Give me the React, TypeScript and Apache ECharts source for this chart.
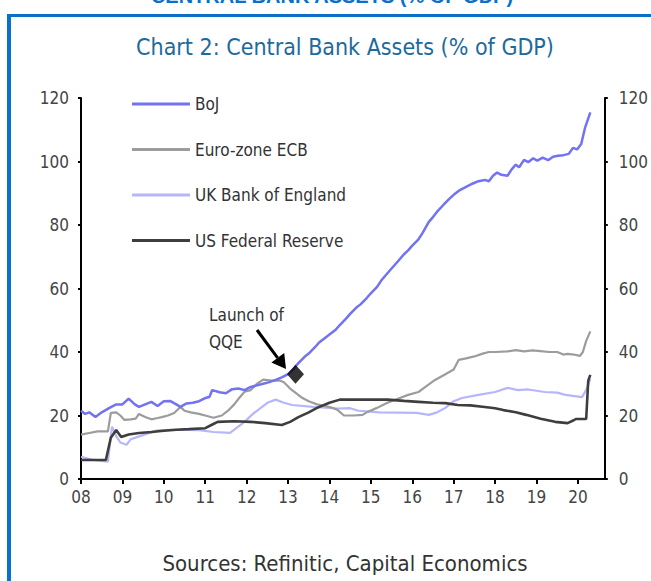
import React, { useEffect, useRef } from "react";
import * as echarts from "echarts";

const NARROW = "'Liberation Sans Narrow', 'DejaVu Sans Condensed', 'Noto Sans', sans-serif";

const seriesNames = ["BoJ", "Euro-zone ECB", "UK Bank of England", "US Federal Reserve"];
const seriesColors = ["#7272f2", "#9c9c9c", "#b6b6fa", "#3e3e3e"];

const boj: number[][] = [
  [2008.0, 21.5], [2008.1, 20.5], [2008.2, 21], [2008.35, 19.5], [2008.5, 21], [2008.7, 22.5], [2008.85, 23.5],
  [2009.0, 23.5], [2009.15, 25.3], [2009.3, 23.5], [2009.4, 22.7], [2009.55, 23.5], [2009.7, 24.3], [2009.85, 23],
  [2010.0, 24.5], [2010.15, 24.6], [2010.3, 23.5], [2010.4, 22.7], [2010.55, 23.8], [2010.7, 24], [2010.85, 24.5],
  [2011.0, 25.5], [2011.1, 25.8], [2011.17, 28], [2011.35, 27.3], [2011.5, 27], [2011.65, 28.3], [2011.8, 28.5],
  [2011.95, 28], [2012.1, 29], [2012.25, 29.5], [2012.4, 30], [2012.55, 30.5], [2012.7, 31.2], [2012.85, 32],
  [2013.0, 33], [2013.12, 34.5], [2013.25, 36.5], [2013.4, 38.5], [2013.5, 39.5], [2013.65, 41.5], [2013.75, 43],
  [2013.9, 44.5], [2014.0, 45.5], [2014.15, 47], [2014.25, 48.5], [2014.4, 50.5], [2014.5, 52], [2014.65, 54],
  [2014.75, 55], [2014.9, 57], [2015.0, 58.5], [2015.15, 60.5], [2015.25, 62.5], [2015.4, 64.8], [2015.5, 66.3],
  [2015.65, 68.5], [2015.8, 70.8], [2015.9, 72], [2016.0, 73.5], [2016.15, 75.5], [2016.25, 77.5], [2016.4, 81],
  [2016.5, 82.5], [2016.6, 84.2], [2016.75, 86.3], [2016.9, 88.3], [2017.0, 89.5], [2017.15, 91], [2017.3, 92],
  [2017.45, 93], [2017.6, 93.8], [2017.75, 94.2], [2017.85, 93.8], [2017.95, 95.5], [2018.05, 96.5], [2018.15, 95.8],
  [2018.3, 95.5], [2018.4, 97.5], [2018.5, 99], [2018.58, 98.2], [2018.7, 100.5], [2018.8, 99.8], [2018.92, 101],
  [2019.02, 100.3], [2019.15, 101.2], [2019.28, 100.4], [2019.4, 101.5], [2019.52, 101.8], [2019.65, 102],
  [2019.78, 102.4], [2019.88, 104.3], [2019.98, 103.8], [2020.08, 105.5], [2020.17, 110.5], [2020.3, 115.5],
];

const ecb: number[][] = [
  [2008.0, 14], [2008.2, 14.5], [2008.4, 15], [2008.65, 15], [2008.72, 20.8], [2008.85, 21], [2008.95, 20],
  [2009.05, 18.6], [2009.2, 18.8], [2009.32, 19], [2009.4, 20.5], [2009.55, 19.5], [2009.7, 18.8], [2009.85, 19.2],
  [2009.95, 19.5], [2010.1, 20], [2010.25, 20.8], [2010.4, 22.7], [2010.5, 21.5], [2010.65, 21], [2010.85, 20.5],
  [2011.0, 20], [2011.2, 19.3], [2011.4, 20], [2011.55, 21.5], [2011.7, 23.5], [2011.82, 25.5], [2011.95, 27.5],
  [2012.1, 28], [2012.25, 30], [2012.4, 31.3], [2012.6, 31], [2012.8, 31], [2012.9, 30.5], [2013.05, 28.5],
  [2013.2, 27], [2013.35, 25.5], [2013.5, 24.5], [2013.7, 23.5], [2013.9, 23], [2014.05, 22.5], [2014.2, 21.7],
  [2014.35, 20], [2014.6, 20], [2014.8, 20.2], [2014.9, 21], [2015.15, 22.4], [2015.4, 24], [2015.7, 25.5],
  [2015.9, 26.5], [2016.15, 27.4], [2016.35, 29.3], [2016.55, 31.2], [2016.8, 33], [2017.0, 34.5], [2017.12, 37.5],
  [2017.3, 38], [2017.5, 38.6], [2017.7, 39.5], [2017.85, 40], [2018.0, 40], [2018.3, 40.2], [2018.5, 40.6],
  [2018.7, 40.2], [2018.9, 40.5], [2019.1, 40.3], [2019.3, 40], [2019.5, 40], [2019.65, 39.2], [2019.75, 39.4],
  [2019.9, 39.2], [2020.05, 38.8], [2020.12, 40], [2020.2, 43.5], [2020.3, 46.5],
];

const boe: number[][] = [
  [2008.0, 7], [2008.3, 6], [2008.65, 5.5], [2008.75, 16.5], [2008.85, 13.5], [2008.95, 11.5], [2009.1, 10.8],
  [2009.2, 12.5], [2009.35, 13.2], [2009.6, 14.3], [2009.85, 15.3], [2010.2, 15.5], [2010.5, 15.5], [2010.85, 15.4],
  [2011.2, 14.8], [2011.6, 14.5], [2011.75, 16], [2011.95, 18], [2012.15, 20.5], [2012.35, 22.5], [2012.5, 24],
  [2012.7, 25], [2012.9, 24], [2013.1, 23.3], [2013.6, 22.7], [2014.2, 22.2], [2014.5, 22.3], [2014.7, 21.5],
  [2015.2, 21], [2016.1, 20.8], [2016.4, 20.2], [2016.6, 21], [2016.8, 22.4], [2017.0, 24.5], [2017.2, 25.5],
  [2017.6, 26.5], [2018.0, 27.4], [2018.3, 28.7], [2018.55, 28], [2018.8, 28.2], [2019.2, 27.4], [2019.5, 27.2],
  [2019.7, 26.5], [2020.1, 25.8], [2020.2, 28], [2020.3, 31.5],
];

const fed: number[][] = [
  [2008.0, 6], [2008.6, 6], [2008.72, 13], [2008.85, 15.4], [2008.97, 13.2], [2009.15, 14], [2009.4, 14.5],
  [2009.7, 14.8], [2010.0, 15.2], [2010.3, 15.5], [2010.6, 15.7], [2011.0, 16], [2011.15, 17], [2011.3, 18],
  [2011.7, 18.2], [2012.1, 18], [2012.45, 17.6], [2012.85, 17], [2013.05, 18], [2013.25, 19.5], [2013.5, 21],
  [2013.7, 22.4], [2014.0, 24], [2014.25, 25], [2014.8, 25], [2015.4, 25], [2015.8, 24.6], [2016.15, 24.3],
  [2016.5, 24], [2016.8, 23.9], [2017.1, 23.3], [2017.4, 23.2], [2017.75, 22.7], [2018.0, 22.3], [2018.2, 21.7],
  [2018.5, 21], [2018.75, 20.2], [2019.1, 19], [2019.45, 18], [2019.75, 17.6], [2019.9, 18.5], [2019.95, 18.9],
  [2020.2, 18.9], [2020.25, 31], [2020.3, 32.8],
];

const qqeLaunch: number[][] = [[2013.18, 33]];

const xMin = 2008;
const xMax = 2020.65;
const yMin = 0;
const yMax = 120;
const yInterval = 20;

export default function App() {
  const ref = useRef<HTMLDivElement>(null);
  useEffect(() => {
    if (!ref.current) return;
    const chart = echarts.init(ref.current, undefined, { renderer: "svg" });
    const axisLine = { show: true, lineStyle: { color: "#000", width: 2 } };
    const axisLabelBase = { color: "#444", fontSize: 17, fontFamily: NARROW };
    const yAxisCommon = {
      type: "value" as const,
      min: yMin,
      max: yMax,
      interval: yInterval,
      splitLine: { show: false },
      axisLine,
      axisTick: { show: true, length: 3, lineStyle: { color: "#000", width: 2 } },
    };
    const dataSets = [boj, ecb, boe, fed];
    const widths = [2.5, 2.2, 2.2, 2.6];
    const zs = [5, 3, 2, 4];
    chart.setOption({
      animation: false,
      grid: { left: 81, right: 44, top: 98, bottom: 102, containLabel: false },
      xAxis: {
        type: "value",
        min: xMin,
        max: xMax,
        interval: 1,
        splitLine: { show: false },
        axisLine,
        axisTick: { show: true, length: 5, lineStyle: { color: "#000", width: 2 } },
        axisLabel: {
          ...axisLabelBase,
          margin: 9,
          showMaxLabel: false,
          formatter: (v: number) =>
            Math.abs(v - Math.round(v)) < 1e-6 ? String(Math.round(v) % 100).padStart(2, "0") : "",
        },
      },
      yAxis: [
        { ...yAxisCommon, position: "left", axisLabel: { ...axisLabelBase, margin: 12 } },
        { ...yAxisCommon, position: "right", axisLabel: { ...axisLabelBase, margin: 14 } },
      ],
      legend: {
        data: seriesNames,
        orient: "vertical",
        left: 132,
        top: 94,
        padding: 0,
        icon: "rect",
        itemWidth: 58,
        itemHeight: 3,
        itemGap: 25.5,
        textStyle: { color: "#333", fontSize: 17, fontFamily: NARROW, lineHeight: 20 },
      },
      series: [
        ...seriesNames.map((name, i) => ({
          name,
          type: "line",
          data: dataSets[i],
          symbol: "none",
          showSymbol: false,
          z: zs[i],
          lineStyle: { color: seriesColors[i], width: widths[i] },
          itemStyle: { color: seriesColors[i] },
        })),
        {
          name: "Launch of QQE",
          type: "scatter",
          data: qqeLaunch,
          symbol: "diamond",
          symbolSize: [17, 19],
          itemStyle: { color: "#000" },
          z: 10,
        },
      ],
      graphic: [
        { type: "rect", shape: { x: 7, y: 14, width: 644, height: 3 }, style: { fill: "#0b70c8" } },
        { type: "rect", shape: { x: 7, y: 14, width: 4, height: 567 }, style: { fill: "#0b70c8" } },
        {
          type: "text",
          x: 332,
          y: 6,
          style: {
            text: "CENTRAL BANK ASSETS (% OF GDP)",
            fill: "#0b70c8",
            font: "bold 20px 'Liberation Sans', Arial, sans-serif",
            textAlign: "center",
            textVerticalAlign: "bottom",
          },
        },
        {
          type: "text",
          x: 345,
          y: 47,
          style: {
            text: "Chart 2: Central Bank Assets (% of GDP)",
            fill: "#1d6a9c",
            font: `23px ${NARROW}`,
            textAlign: "center",
            textVerticalAlign: "middle",
          },
        },
        {
          type: "text",
          x: 209,
          y: 315,
          style: {
            text: "Launch of",
            fill: "#333",
            font: `17px ${NARROW}`,
            textAlign: "left",
            textVerticalAlign: "middle",
          },
        },
        {
          type: "text",
          x: 209,
          y: 342,
          style: {
            text: "QQE",
            fill: "#333",
            font: `17px ${NARROW}`,
            textAlign: "left",
            textVerticalAlign: "middle",
          },
        },
        {
          type: "line",
          shape: { x1: 257, y1: 330, x2: 277.6, y2: 357.8 },
          style: { stroke: "#000", lineWidth: 3 },
        },
        {
          type: "polygon",
          shape: { points: [[286, 369], [271.4, 362.6], [284.2, 353]] },
          style: { fill: "#000" },
        },
        {
          type: "text",
          x: 345,
          y: 563,
          style: {
            text: "Sources: Refinitic, Capital Economics",
            fill: "#333",
            font: `22px ${NARROW}`,
            textAlign: "center",
            textVerticalAlign: "middle",
          },
        },
      ],
    });
    return () => chart.dispose();
  }, []);
  return (
    <div
      ref={ref}
      style={{ position: "fixed", left: 0, top: 0, width: 651, height: 581, background: "#fff" }}
    />
  );
}
